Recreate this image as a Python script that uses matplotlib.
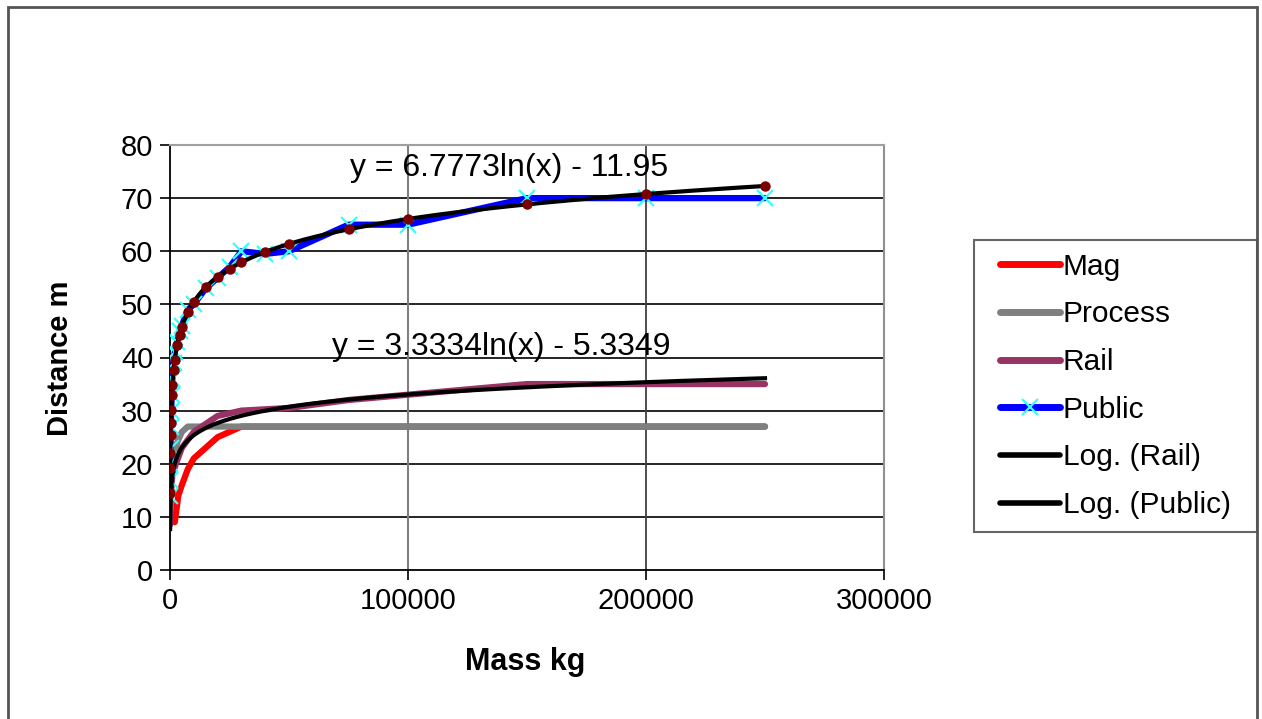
import numpy as np
import matplotlib
matplotlib.use("Agg")
import matplotlib.pyplot as plt
from matplotlib.lines import Line2D
from matplotlib.patches import Rectangle
from matplotlib.legend_handler import HandlerLine2D

plt.rcParams['font.family'] = ['Liberation Sans', 'DejaVu Sans']

# data
mag_x = [2000, 3500, 5000, 7500, 10000, 15000, 20000, 25000, 30000, 50000, 100000, 150000, 200000, 250000]
mag_y = [9, 14, 16, 19, 21, 23, 25, 26, 27, 27, 27, 27, 27, 27]

proc_x = [1000, 3000, 5000, 7500, 10000, 50000, 100000, 150000, 200000, 250000]
proc_y = [20, 24, 26, 27, 27, 27, 27, 27, 27, 27]

rail_x = [50, 100, 500, 1000, 2500, 5000, 10000, 20000, 30000, 50000, 75000, 100000, 150000, 200000, 250000]
rail_y = [8.5, 10, 15, 18, 20, 23, 26, 29, 30, 30.5, 32, 33, 35, 35, 35]

pub_x = [50, 100, 150, 250, 350, 500, 750, 1000, 1500, 2000, 3000, 4000, 5000, 7500,
         10000, 15000, 20000, 25000, 30000, 40000, 50000, 75000, 100000, 150000, 200000, 250000]
pub_y = [14, 17, 20, 23, 27, 30, 33, 36, 39, 41, 43, 45, 46, 49,
         50, 53, 55, 57, 60, 59.5, 60, 65, 65, 70, 70, 70]

# log trendline coefficients shown on the chart
rail_a, rail_b = 3.3334, -5.3349
pub_a, pub_b = 6.7773, -11.95

W, H = 1262, 719
fig = plt.figure(figsize=(W / 100, H / 100), dpi=100)
ax = fig.add_axes([170 / W, 1 - 570 / H, 714 / W, 425 / H])

ax.set_xlim(0, 300000)
ax.set_ylim(0, 80)
ax.set_xticks([0, 100000, 200000, 300000])
ax.set_yticks(range(0, 81, 10))
ax.tick_params(direction='out', length=7, width=1.2, labelsize=21, pad=5)

for y in range(10, 81, 10):
    ax.axhline(y, color='black', lw=1.2, zorder=1)
ax.axvline(100000, color='#808080', lw=1.5, zorder=1)
ax.axvline(200000, color='#404040', lw=1.3, zorder=1)

ax.spines['left'].set_color('black')
ax.spines['bottom'].set_color('black')
ax.spines['left'].set_linewidth(1.3)
ax.spines['bottom'].set_linewidth(1.3)
ax.spines['top'].set_color('#a0a0a0')
ax.spines['right'].set_color('#909090')
ax.spines['top'].set_linewidth(1.5)
ax.spines['right'].set_linewidth(1.5)

ax.plot(mag_x, mag_y, color='#ff0000', lw=4.5, solid_capstyle='round', zorder=3)
ax.plot(proc_x, proc_y, color='#808080', lw=4.5, solid_capstyle='round', zorder=3)
ax.plot(rail_x, rail_y, color='#993366', lw=4.5, solid_capstyle='round', zorder=3)
ax.plot(pub_x, pub_y, color='#0000ff', lw=4.5, marker='x', ms=11, mew=1.6,
        mec='#33ffff', solid_capstyle='round', zorder=3)

rx = np.geomspace(rail_x[0], rail_x[-1], 400)
ax.plot(rx, rail_a * np.log(rx) + rail_b, color='black', lw=3, zorder=4)
px = np.geomspace(pub_x[0], pub_x[-1], 400)
ax.plot(px, pub_a * np.log(px) + pub_b, color='black', lw=3, zorder=4)
pxa = np.array(pub_x)
ax.plot(pxa, pub_a * np.log(pxa) + pub_b, ls='none', marker='o', ms=6.5,
        color='#7a0000', zorder=5)

ax.text(75500, 75.7, 'y = 6.7773ln(x) - 11.95', fontsize=23, va='center', ha='left', zorder=6)
ax.text(68000, 42, 'y = 3.3334ln(x) - 5.3349', fontsize=23, va='center', ha='left', zorder=6)

fig.text(60 / W, 1 - 358 / H, 'Distance m', rotation=90, fontsize=21, fontweight='bold',
         ha='center', va='center')
fig.text(525 / W, 1 - 662 / H, 'Mass kg', fontsize=22, fontweight='bold',
         ha='center', va='center')


class ShiftedLine(HandlerLine2D):
    # leaves a gap before the legend line, as in the original
    def create_artists(self, legend, orig_handle, xdescent, ydescent, width, height,
                       fontsize, trans):
        gap = 9.5
        return super().create_artists(legend, orig_handle, xdescent - gap, ydescent,
                                      width - gap, height, fontsize, trans)


handles = [
    Line2D([], [], color='#ff0000', lw=5, solid_capstyle='round'),
    Line2D([], [], color='#808080', lw=5, solid_capstyle='round'),
    Line2D([], [], color='#993366', lw=5, solid_capstyle='round'),
    Line2D([], [], color='#0000ff', lw=5, marker='x', ms=11, mew=1.6, mec='#33ffff',
           solid_capstyle='round'),
    Line2D([], [], color='black', lw=4, solid_capstyle='round'),
    Line2D([], [], color='black', lw=4, solid_capstyle='round'),
]
labels = ['Mag', 'Process', 'Rail', 'Public', 'Log. (Rail)', 'Log. (Public)']
leg = ax.legend(handles, labels, loc='upper left',
                bbox_to_anchor=(974 / W, 1 - 527 / H, 283 / W, 287 / H),
                bbox_transform=fig.transFigure, mode='expand', fontsize=21.5,
                frameon=True, fancybox=False, borderaxespad=0, handlelength=2.45,
                handletextpad=0.1, labelspacing=0.66, borderpad=0.42,
                handler_map={Line2D: ShiftedLine()})
leg.get_frame().set_edgecolor('#404040')
leg.get_frame().set_linewidth(1.5)

fig.patches.append(Rectangle((8 / W, -0.05), (1257 - 8) / W, 1 - 7 / H + 0.05,
                             transform=fig.transFigure, fill=False, ec='#555555', lw=2))

fig.savefig('out.png', dpi=100)
